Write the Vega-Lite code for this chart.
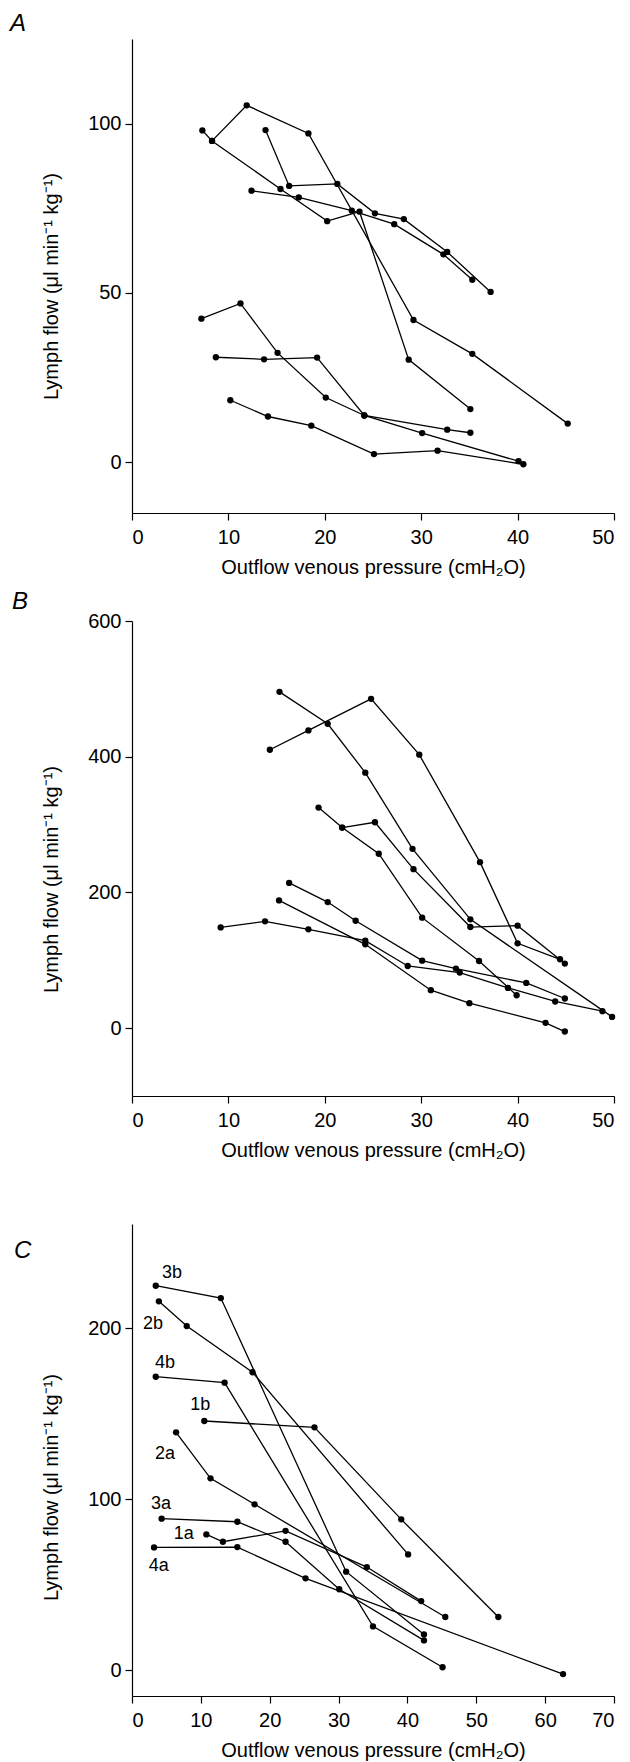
{
 "$schema": "https://vega.github.io/schema/vega-lite/v6.json",
 "background": "white",
 "padding": {"left": 10, "top": 12, "right": 5, "bottom": 2},
 "config": {
  "view": {"stroke": null},
  "font": "Liberation Sans",
  "axis": {"grid": false, "domainColor": "black", "tickColor": "black", "labelColor": "black", "titleColor": "black", "labelFont": "Liberation Sans", "titleFont": "Liberation Sans", "labelFontSize": 20, "titleFontSize": 20, "titleFontWeight": "normal", "tickSize": 7, "domainWidth": 1.2, "tickWidth": 1.2},
  "axisX": {"titleY": 60, "titleBaseline": "alphabetic", "labelPadding": 7},
  "axisY": {"titleX": -75, "titleBaseline": "alphabetic", "labelPadding": 4},
  "title": {"font": "Liberation Sans", "fontSize": 24, "fontStyle": "italic", "fontWeight": "normal", "anchor": "start", "frame": "group", "baseline": "alphabetic", "offset": 0, "color": "black"}
 },
 "datasets": {
  "a": [
   {"s":"X","x":7.3,"y":98.0},{"s":"X","x":8.3,"y":94.9},{"s":"X","x":15.4,"y":80.7},{"s":"X","x":20.25,"y":71.2},{"s":"X","x":23.6,"y":74.0},{"s":"X","x":28.7,"y":30.3},{"s":"X","x":35.1,"y":15.7},
   {"s":"Y","x":8.3,"y":94.9},{"s":"Y","x":11.9,"y":105.4},{"s":"Y","x":18.3,"y":97.1},{"s":"Y","x":29.2,"y":42.0},{"s":"Y","x":35.3,"y":32.0},{"s":"Y","x":45.2,"y":11.4},
   {"s":"Z","x":13.85,"y":98.1},{"s":"Z","x":16.3,"y":81.6},{"s":"Z","x":21.3,"y":82.2},{"s":"Z","x":25.2,"y":73.5},{"s":"Z","x":28.2,"y":71.8},{"s":"Z","x":32.7,"y":62.1},{"s":"Z","x":37.2,"y":50.3},
   {"s":"W","x":12.4,"y":80.2},{"s":"W","x":17.3,"y":78.2},{"s":"W","x":22.8,"y":74.3},{"s":"W","x":27.2,"y":70.3},{"s":"W","x":32.3,"y":61.4},{"s":"W","x":35.3,"y":53.9},
   {"s":"L1","x":7.2,"y":42.4},{"s":"L1","x":11.25,"y":46.9},{"s":"L1","x":15.1,"y":32.3},{"s":"L1","x":20.1,"y":19.1},{"s":"L1","x":24.1,"y":13.8},{"s":"L1","x":32.7,"y":9.6},{"s":"L1","x":35.1,"y":8.7},
   {"s":"L2","x":8.7,"y":31.0},{"s":"L2","x":13.7,"y":30.4},{"s":"L2","x":19.2,"y":30.9},{"s":"L2","x":24.1,"y":13.8},{"s":"L2","x":30.1,"y":8.6},{"s":"L2","x":40.1,"y":0.3},
   {"s":"L4","x":10.2,"y":18.3},{"s":"L4","x":14.1,"y":13.5},{"s":"L4","x":18.6,"y":10.8},{"s":"L4","x":25.1,"y":2.4},{"s":"L4","x":31.7,"y":3.4},{"s":"L4","x":40.6,"y":-0.6}
  ],
  "b": [
   {"s":"S1","x":15.3,"y":495.6},{"s":"S1","x":20.3,"y":448.5},{"s":"S1","x":24.2,"y":376.5},{"s":"S1","x":29.1,"y":264.3},{"s":"S1","x":35.1,"y":160.3},{"s":"S1","x":49.8,"y":16.6},
   {"s":"S2","x":14.3,"y":410.3},{"s":"S2","x":18.3,"y":438.7},{"s":"S2","x":24.8,"y":485.3},{"s":"S2","x":29.8,"y":403.0},{"s":"S2","x":36.1,"y":244.6},{"s":"S2","x":40.0,"y":125.0},{"s":"S2","x":44.4,"y":101.5},
   {"s":"Q","x":21.8,"y":295.6},{"s":"Q","x":25.2,"y":303.4},{"s":"Q","x":29.2,"y":234.3},{"s":"Q","x":35.1,"y":149.0},{"s":"Q","x":40.0,"y":151.0},{"s":"Q","x":44.9,"y":95.1},
   {"s":"P","x":19.35,"y":325.0},{"s":"P","x":21.8,"y":295.6},{"s":"P","x":25.6,"y":257.0},{"s":"P","x":30.1,"y":162.8},{"s":"P","x":36.0,"y":99.0},{"s":"P","x":39.9,"y":48.5},
   {"s":"L1","x":16.3,"y":214.0},{"s":"L1","x":20.3,"y":185.8},{"s":"L1","x":23.2,"y":158.3},{"s":"L1","x":30.1,"y":99.5},{"s":"L1","x":33.6,"y":87.8},{"s":"L1","x":40.9,"y":66.6},{"s":"L1","x":44.9,"y":43.7},
   {"s":"L2","x":9.2,"y":148.5},{"s":"L2","x":13.8,"y":157.4},{"s":"L2","x":18.3,"y":145.6},{"s":"L2","x":24.2,"y":129.0},{"s":"L2","x":28.6,"y":91.6},{"s":"L2","x":34.0,"y":81.9},{"s":"L2","x":39.0,"y":59.3},{"s":"L2","x":43.9,"y":39.3},{"s":"L2","x":48.8,"y":25.0},
   {"s":"L3","x":15.25,"y":188.2},{"s":"L3","x":24.2,"y":123.5},{"s":"L3","x":31.0,"y":55.9},{"s":"L3","x":35.0,"y":36.8},{"s":"L3","x":42.9,"y":7.8},{"s":"L3","x":44.9,"y":-5.0}
  ],
  "c": [
   {"s":"1a","x":10.8,"y":79.5},{"s":"1a","x":13.2,"y":75.2},{"s":"1a","x":22.3,"y":81.6},{"s":"1a","x":34.1,"y":60.4},{"s":"1a","x":42.0,"y":40.5},
   {"s":"1b","x":10.5,"y":145.8},{"s":"1b","x":26.5,"y":142.1},{"s":"1b","x":39.1,"y":88.3},{"s":"1b","x":53.2,"y":31.2},
   {"s":"2a","x":6.4,"y":139.2},{"s":"2a","x":11.4,"y":112.3},{"s":"2a","x":17.8,"y":97.1},{"s":"2a","x":45.5,"y":31.2},
   {"s":"2b","x":3.9,"y":215.8},{"s":"2b","x":7.95,"y":201.3},{"s":"2b","x":17.5,"y":174.3},{"s":"2b","x":40.1,"y":67.8},
   {"s":"3a","x":4.3,"y":88.7},{"s":"3a","x":15.3,"y":86.9},{"s":"3a","x":22.3,"y":75.2},{"s":"3a","x":30.1,"y":47.4},{"s":"3a","x":42.4,"y":17.5},
   {"s":"3b","x":3.45,"y":224.9},{"s":"3b","x":12.9,"y":217.7},{"s":"3b","x":31.1,"y":57.7},{"s":"3b","x":42.4,"y":21.0},
   {"s":"4a","x":3.2,"y":71.9},{"s":"4a","x":15.3,"y":72.1},{"s":"4a","x":25.2,"y":53.8},{"s":"4a","x":62.6,"y":-2.2},
   {"s":"4b","x":3.45,"y":171.7},{"s":"4b","x":13.45,"y":168.2},{"s":"4b","x":35.0,"y":25.7},{"s":"4b","x":45.1,"y":1.8}
  ],
  "clabels": [
   {"label":"3b","x":5.8,"y":232.5},{"label":"2b","x":3.05,"y":202.7},{"label":"4b","x":4.8,"y":179.9},{"label":"1b","x":9.9,"y":155.0},
   {"label":"2a","x":4.8,"y":126.3},{"label":"3a","x":4.2,"y":97.4},{"label":"1a","x":7.5,"y":79.5},{"label":"4a","x":3.9,"y":61.0}
  ]
 },
 "spacing": 108,
 "bounds": "flush",
 "vconcat": [
  {
   "title": {"text": "A", "dx": -122, "dy": 1},
   "width": 482, "height": 474,
   "data": {"name": "a"},
   "encoding": {
    "x": {"field": "x", "type": "quantitative", "scale": {"domain": [0, 50], "nice": false, "zero": false}, "axis": {"values": [0, 10, 20, 30, 40, 50], "title": "Outflow venous pressure (cmH₂O)"}},
    "y": {"field": "y", "type": "quantitative", "scale": {"domain": [-15, 125], "nice": false, "zero": false}, "axis": {"values": [0, 50, 100], "title": "Lymph flow (μl min⁻¹ kg⁻¹)", "titleY": 247}}
   },
   "layer": [
    {"mark": {"type": "line", "color": "black", "strokeWidth": 1.3}, "encoding": {"detail": {"field": "s"}}},
    {"mark": {"type": "point", "filled": true, "color": "black", "size": 40, "opacity": 1}}
   ]
  },
  {
   "spacing": 128,
   "bounds": "flush",
   "vconcat": [
    {
     "title": {"text": "B", "dx": -120, "dy": 7},
     "width": 482, "height": 475,
     "data": {"name": "b"},
     "encoding": {
      "x": {"field": "x", "type": "quantitative", "scale": {"domain": [0, 50], "nice": false, "zero": false}, "axis": {"values": [0, 10, 20, 30, 40, 50], "title": "Outflow venous pressure (cmH₂O)"}},
      "y": {"field": "y", "type": "quantitative", "scale": {"domain": [-100, 600], "nice": false, "zero": false}, "axis": {"values": [0, 200, 400, 600], "title": "Lymph flow (μl min⁻¹ kg⁻¹)", "titleY": 258}}
     },
     "layer": [
      {"mark": {"type": "line", "color": "black", "strokeWidth": 1.3}, "encoding": {"detail": {"field": "s"}}},
      {"mark": {"type": "point", "filled": true, "color": "black", "size": 40, "opacity": 1}}
     ]
    },
    {
     "title": {"text": "C", "dx": -118, "dy": 43},
     "width": 482, "height": 472,
     "encoding": {
      "x": {"field": "x", "type": "quantitative", "scale": {"domain": [0, 70], "nice": false, "zero": false}, "axis": {"values": [0, 10, 20, 30, 40, 50, 60, 70], "title": "Outflow venous pressure (cmH₂O)"}},
      "y": {"field": "y", "type": "quantitative", "scale": {"domain": [-15, 261], "nice": false, "zero": false}, "axis": {"values": [0, 100, 200], "title": "Lymph flow (μl min⁻¹ kg⁻¹)", "titleY": 263}}
     },
     "layer": [
      {"data": {"name": "c"}, "mark": {"type": "line", "color": "black", "strokeWidth": 1.3}, "encoding": {"detail": {"field": "s"}}},
      {"data": {"name": "c"}, "mark": {"type": "point", "filled": true, "color": "black", "size": 40, "opacity": 1}},
      {"data": {"name": "clabels"}, "mark": {"type": "text", "font": "Liberation Sans", "fontSize": 18, "color": "black", "align": "center", "baseline": "middle"}, "encoding": {"text": {"field": "label"}}}
     ]
    }
   ]
  }
 ]
}
